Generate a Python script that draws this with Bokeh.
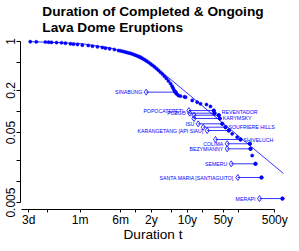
from bokeh.plotting import figure
from bokeh.models import FixedTicker, Range1d, ColumnDataSource
from bokeh.embed import file_html
from bokeh.resources import INLINE
from bokeh.core.properties import value

BLUE = "#0000FF"

# Kaplan-Meier estimate (duration in days, survival fraction)
km_days = [3.2, 4.2, 6.3, 7.3, 8.3, 10.4, 13, 15.5, 19.4, 22.2, 26.6, 33, 43, 52, 65, 81, 93, 112, 139, 167,
           182, 200, 218, 239, 261, 286, 313, 341, 373, 408, 447, 489, 535, 585, 640, 700, 766, 838, 914, 1000,
           1094, 1197, 1310, 1432, 1567, 1714, 1833, 1915, 2005, 2095, 2193, 2291,
           2450, 2679, 3207, 3357, 4530, 5664, 6565, 8592, 10283, 11917, 12305, 14900, 15600, 17380, 20142,
           23340, 27170, 33990, 39455, 59850, 61680, 66550, 77112, 100953, 258297]
km_surv = [0.994, 0.989, 0.983, 0.977, 0.972, 0.966, 0.96, 0.946, 0.927, 0.915, 0.906, 0.885, 0.877, 0.857, 0.84,
           0.821, 0.802, 0.787, 0.769, 0.744,
           0.736, 0.724, 0.713, 0.699, 0.687, 0.676, 0.661, 0.646, 0.631, 0.615, 0.597, 0.574, 0.551, 0.528, 0.505,
           0.480, 0.457, 0.434, 0.411, 0.388, 0.364, 0.342, 0.318, 0.296, 0.273, 0.251, 0.231, 0.217, 0.203, 0.192,
           0.184, 0.177,
           0.169, 0.166, 0.162, 0.160, 0.144, 0.136, 0.129, 0.126, 0.118, 0.103, 0.0946, 0.0885, 0.0795, 0.0667,
           0.0597, 0.0535, 0.048, 0.043, 0.0398, 0.0346, 0.0293, 0.0235, 0.0179, 0.0114, 0.0057]

# fitted survival curve
fit_days = [3.1, 30.4, 117, 286, 700, 1479, 4199, 15600, 71500, 270500]
fit_surv = [0.997, 0.938, 0.808, 0.663, 0.477, 0.316, 0.167, 0.0744, 0.0293, 0.0130]

# ongoing eruptions
ongoing_names = ["SINABUNG", "POPOCATEPETL", "FUEGO", "REVENTADOR", "KARYMSKY", "ISU", "SOUFRIERE HILLS",
                 "KARANGETANG [API SIAU]", "SHIVELUCH", "COLIMA", "BEZYMIANNY", "SEMERU",
                 "SANTA MARIA [SANTIAGUITO]", "MERAPI"]
ongoing_days = [577, 3892, 4066, 4900, 4900, 5931, 7417, 8875, 12860, 21730, 21730, 26010, 34920, 92280]
ongoing_end_days = [2150, 11917, 12305, 14900, 15600, 17380, 20142, 23340, 39455, 59850, 61680, 77112,
                    100953, 258297]
ongoing_surv = [0.189, 0.103, 0.0946, 0.0885, 0.0795, 0.0667, 0.0597, 0.0535, 0.0398, 0.0346, 0.0293,
                0.0179, 0.0114, 0.0057]
ongoing_side = ["L", "L", "L", "R", "R", "L", "R", "L", "R", "L", "L", "L", "L", "L"]

x_tick_days = [3, 7, 30, 183, 365, 730, 1826, 3652, 7305, 18262, 36525, 182625]
x_tick_labels = ["3d", "", "1m", "6m", "", "2y", "", "10y", "", "50y", "", "500y"]
y_ticks = [1, 0.5, 0.2, 0.1, 0.05, 0.02, 0.01, 0.005]
y_tick_labels = ["1", "", "0.2", "", "0.05", "", "", "0.005"]

title_text = "Duration of Completed & Ongoing\nLava Dome Eruptions"

p = figure(width=299, height=251, x_axis_type="log", y_axis_type="log",
           x_range=Range1d(2.069, 295900), y_range=Range1d(0.003981, 1.179),
           output_backend="svg", toolbar_location=None,
           min_border_left=20, min_border_right=14, min_border_top=36, min_border_bottom=42)
p.outline_line_color = None
p.xgrid.grid_line_color = None
p.ygrid.grid_line_color = None

p.title.text = title_text
p.title.align = "center"
p.title.offset = 3
p.title.standoff = 3
p.title.text_font = "Liberation Sans"
p.title.text_font_size = "13.7px"
p.title.text_font_style = "bold"
p.title.text_color = "black"
p.title.text_line_height = 1.07

# x axis
xa = p.xaxis[0]
xa.ticker = FixedTicker(ticks=x_tick_days, minor_ticks=[])
xa.major_label_overrides = {t: l for t, l in zip(x_tick_days, x_tick_labels)}
xa.bounds = (2.16, 182625)
xa.axis_line_color = "black"
xa.major_tick_line_color = "black"
xa.major_tick_out = 3
xa.major_tick_in = 0
xa.minor_tick_line_color = None
xa.major_label_standoff = 0
xa.major_label_text_font = "Liberation Sans"
xa.major_label_text_font_size = "12px"
xa.major_label_text_color = "black"
xa.axis_label = "Duration t"
xa.axis_label_text_font = "Liberation Sans"
xa.axis_label_text_font_size = "13.6px"
xa.axis_label_text_font_style = "normal"
xa.axis_label_text_color = "black"
xa.axis_label_standoff = -3

# y axis
ya = p.yaxis[0]
ya.ticker = FixedTicker(ticks=y_ticks, minor_ticks=[])
ya.major_label_overrides = {t: l for t, l in zip(y_ticks, y_tick_labels)}
ya.bounds = (0.005, 1)
ya.axis_line_color = "black"
ya.major_tick_line_color = "black"
ya.major_tick_out = 4
ya.major_tick_in = 0
ya.minor_tick_line_color = None
ya.major_label_orientation = "vertical"
ya.major_label_standoff = 1
ya.major_label_text_font = "Liberation Sans"
ya.major_label_text_font_size = "12px"
ya.major_label_text_color = "black"

# fitted curve
p.line(fit_days, fit_surv, line_color=BLUE, line_width=0.8)

# KM points
p.scatter(km_days, km_surv, size=3.2, marker="circle", fill_color=BLUE, line_color=BLUE, line_width=0.5)

# ongoing eruptions
p.segment(x0=ongoing_days, y0=ongoing_surv, x1=ongoing_end_days, y1=ongoing_surv, line_color=BLUE,
          line_width=0.8)
p.scatter(ongoing_days, ongoing_surv, marker="diamond", size=6, fill_color=None, line_color=BLUE,
          line_width=0.8)
p.scatter(ongoing_end_days, ongoing_surv, size=3.2, marker="circle", fill_color=BLUE, line_color=BLUE)

left_src = ColumnDataSource(dict(
    x=[d for d, s in zip(ongoing_days, ongoing_side) if s == "L"],
    y=[v for v, s in zip(ongoing_surv, ongoing_side) if s == "L"],
    t=[n for n, s in zip(ongoing_names, ongoing_side) if s == "L"]))
right_src = ColumnDataSource(dict(
    x=[d for d, s in zip(ongoing_end_days, ongoing_side) if s == "R"],
    y=[v for v, s in zip(ongoing_surv, ongoing_side) if s == "R"],
    t=[n for n, s in zip(ongoing_names, ongoing_side) if s == "R"],
    dy=[-3 if n == "REVENTADOR" else 0 for n, s in zip(ongoing_names, ongoing_side) if s == "R"]))
p.text("x", "y", text="t", source=left_src, x_offset=-4, text_align="right", text_baseline="middle",
       text_font=value("Liberation Sans"), text_font_size="5.2px", text_color=BLUE)
p.text("x", "y", text="t", source=right_src, x_offset=3, y_offset="dy", text_align="left",
       text_baseline="middle", text_font=value("Liberation Sans"), text_font_size="5.2px", text_color=BLUE)

open("out.html", "w").write(file_html(p, INLINE))
